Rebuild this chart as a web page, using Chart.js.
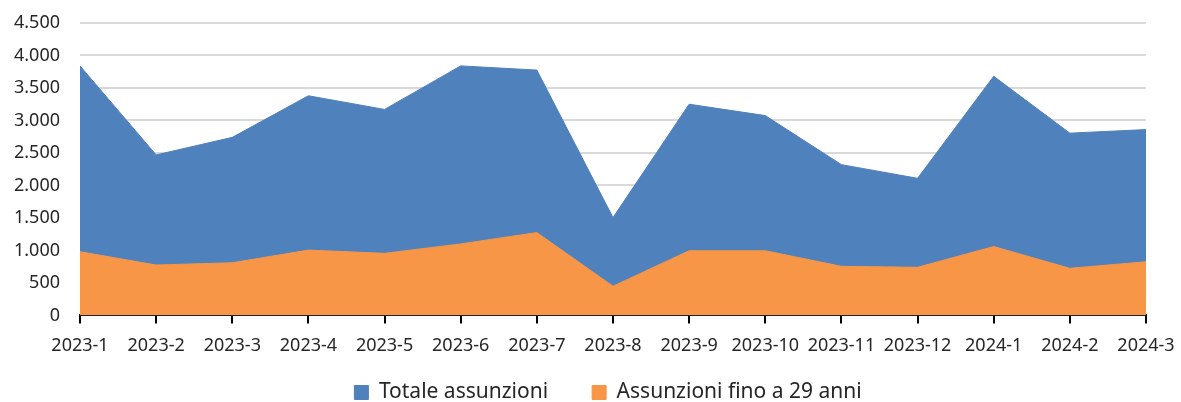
<!DOCTYPE html>
<html>
<head>
<meta charset="utf-8">
<script src="https://cdn.jsdelivr.net/npm/chart.js@4"></script>
<style>
  html, body { margin: 0; padding: 0; background: #fff; }
  #wrap { width: 1181px; height: 402px; }
</style>
</head>
<body>
<div id="wrap"><canvas id="myChart" width="1181" height="402"></canvas></div>
<script>
var mesi = ['2023-1', '2023-2', '2023-3', '2023-4', '2023-5', '2023-6', '2023-7', '2023-8',
            '2023-9', '2023-10', '2023-11', '2023-12', '2024-1', '2024-2', '2024-3'];
var totale = [3840, 2470, 2740, 3380, 3170, 3840, 3775, 1505, 3250, 3075, 2320, 2110, 3680, 2805, 2860];
var under29 = [980, 775, 810, 1005, 955, 1100, 1275, 450, 995, 995, 755, 740, 1060, 725, 825];
var yTicks = [0, 500, 1000, 1500, 2000, 2500, 3000, 3500, 4000, 4500];

var font = "'Noto Sans', 'Open Sans', sans-serif";

function fmt(v) {
  return v.toString().replace(/\B(?=(\d{3})+(?!\d))/g, '.');
}

// wide gap between legend items without a tall legend box
var legendTweak = {
  id: 'legendTweak',
  afterInit: function(chart) {
    var lg = chart.legend;
    var fit = lg.fit;
    lg.fit = function() {
      fit.call(this);
      this.height -= 42;
    };
  },
  afterLayout: function(chart) {
    var lg = chart.legend;
    lg.top = 382 - lg.options.labels.padding;
    lg.bottom = chart.height;
    lg.left += 35;
    lg.right += 35;
  }
};

var ctx = document.getElementById('myChart');
new Chart(ctx, {
  type: 'line',
  data: {
    labels: mesi,
    datasets: [
      {
        label: 'Totale assunzioni',
        data: totale,
        backgroundColor: '#4F81BD',
        borderColor: '#4F81BD',
        borderWidth: 1,
        pointRadius: 0,
        fill: 'origin',
        tension: 0,
        order: 1
      },
      {
        label: 'Assunzioni fino a 29 anni',
        data: under29,
        backgroundColor: '#F79646',
        borderColor: '#F79646',
        borderWidth: 1,
        pointRadius: 0,
        fill: 'origin',
        tension: 0,
        order: 0
      }
    ]
  },
  plugins: [legendTweak],
  options: {
    responsive: false,
    animation: false,
    layout: { padding: { left: 0, right: 35, top: 23, bottom: 0 } },
    plugins: {
      tooltip: { enabled: false },
      legend: {
        position: 'bottom',
        labels: {
          font: { family: font, size: 21 },
          color: '#262626',
          boxWidth: 14,
          boxHeight: 14,
          padding: 44,
          sort: function(a, b) { return a.datasetIndex - b.datasetIndex; }
        }
      }
    },
    scales: {
      x: {
        offset: false,
        afterFit: function(axis) {
          axis.paddingLeft = 0;
          axis.paddingRight = 0;
        },
        grid: {
          display: true,
          drawOnChartArea: false,
          drawTicks: true,
          tickLength: 8,
          color: '#000',
          lineWidth: 2
        },
        border: { display: true, color: '#000', width: 2 },
        ticks: {
          font: { family: font, size: 18 },
          color: '#262626',
          maxRotation: 0,
          autoSkip: false,
          padding: 12
        }
      },
      y: {
        min: 0,
        max: 4500,
        afterBuildTicks: function(axis) {
          axis.ticks = yTicks.map(function(v) { return { value: v }; });
        },
        afterFit: function(axis) {
          axis.width = 80;
          axis.paddingTop = 0;
          axis.paddingBottom = 0;
        },
        grid: { color: '#d9d9d9', lineWidth: 2, drawTicks: false },
        border: { display: false },
        ticks: {
          font: { family: font, size: 18 },
          color: '#262626',
          padding: 20,
          callback: function(v) { return fmt(v); }
        }
      }
    }
  }
});
</script>
</body>
</html>
